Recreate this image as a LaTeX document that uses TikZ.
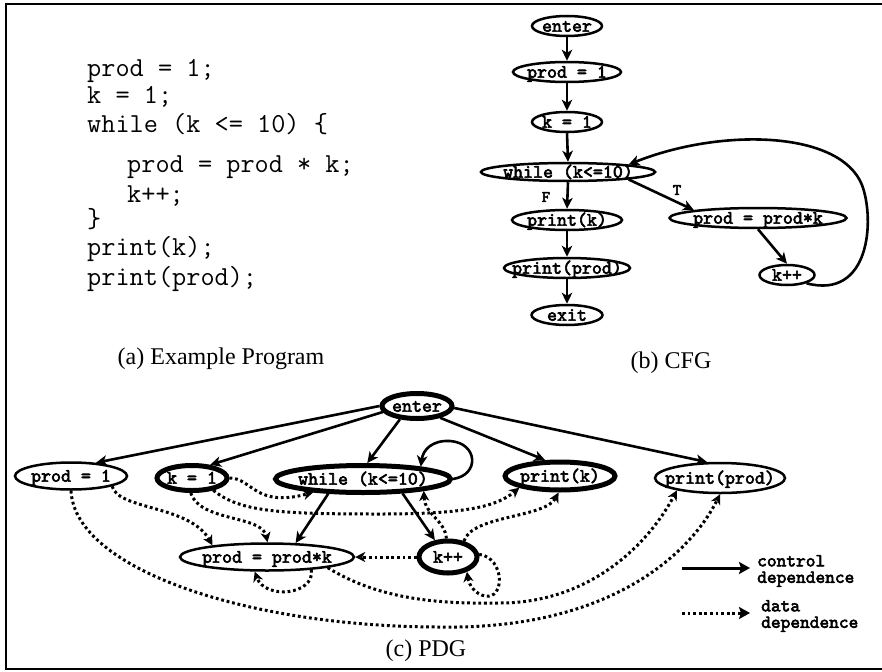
\documentclass[tikz,border=0pt]{standalone}
\usepackage{fontspec}
\setmainfont{Liberation Serif}
\newfontfamily\graphfam{lmmono10-regular}[Extension=.otf, FakeBold=3]
\usetikzlibrary{shapes.geometric,arrows.meta}
% typewriter faces for the program text and the graph labels
\newcommand\codett{\fontencoding{TU}\fontfamily{lmtt}\fontseries{m}\fontshape{n}\fontsize{27.5}{27.5}\selectfont}
\newcommand\gtt{\graphfam\fontsize{19}{19}\selectfont}
\newcommand\legtt{\graphfam\fontsize{18.5}{16.5}\selectfont}
\newcommand\smalltt{\graphfam\fontsize{16}{16}\selectfont}
% label text that does not enlarge the ellipse around it
\newcommand\lbl[1]{\raisebox{-0.3em}[0pt][0pt]{\makebox[0pt]{#1}}}
\tikzset{
  code/.style={anchor=base west, inner sep=0pt, font=\codett},
  caption/.style={anchor=base, inner sep=0pt, font=\fontsize{24}{24}\selectfont},
  gnode/.style={ellipse, draw, line width=2.5pt, inner sep=0pt, font=\gtt},
  boldnode/.style={ellipse, draw, line width=5pt, inner sep=0pt, font=\gtt},
  ctrl/.style={line width=2.6pt, -{Stealth[length=11pt,width=10.5pt,inset=3pt]}},
  datadep/.style={line width=3pt, dash pattern=on 2.8pt off 2.8pt,
    -{Stealth[length=10pt,width=10pt,inset=3pt]}},
  legtext/.style={anchor=west, inner sep=0pt, align=left, font=\legtt},
}
\begin{document}
\begin{tikzpicture}[x=1pt,y=-1pt]
\useasboundingbox (0,0) rectangle (882,671);
% frame
\draw[line width=2pt] (882,4) -- (6,4) -- (6,669) -- (882,669);

% ---------- (a) program ----------
\node[code] (l1) at (87,77)  {prod = 1;};
\node[code] (l2) at (87,104) {k = 1;};
\node[code] (l3) at (87,133) {while (k <= 10) \{};
\node[code] (l4) at (127,172) {prod = prod * k;};
\node[code] (l5) at (127,202) {k++;};
\node[code] (l6) at (87,227) {\}};
\node[code] (l7) at (87,255) {print(k);};
\node[code] (l8) at (87,285) {print(prod);};
\node[caption] (capa) at (221,364) {(a) Example Program};

% ---------- (b) CFG ----------
\node[gnode, minimum width=70pt,  minimum height=20pt] (c_enter) at (567,26)  {\lbl{enter}};
\node[gnode, minimum width=108pt, minimum height=20pt] (c_p1)    at (567,72)  {\lbl{prod = 1}};
\node[gnode, minimum width=70pt,  minimum height=20pt] (c_k1)    at (567,122) {\lbl{k = 1}};
\node[gnode, minimum width=174pt, minimum height=18pt] (c_wh)    at (568,172) {\lbl{while (k<=10)}};
\node[gnode, minimum width=110pt, minimum height=20pt] (c_pk)    at (567,220) {\lbl{print(k)}};
\node[gnode, minimum width=126pt, minimum height=20pt] (c_pp)    at (567,268) {\lbl{print(prod)}};
\node[gnode, minimum width=71pt,  minimum height=20pt] (c_exit)  at (567,315) {\lbl{exit}};
\node[gnode, minimum width=177pt, minimum height=20pt] (c_pr)    at (758,218) {\lbl{prod = prod*k}};
\node[gnode, minimum width=55pt,  minimum height=20pt] (c_kpp)   at (787,275) {\lbl{k++}};

\draw[ctrl] (c_enter.south) -- (c_p1.north);
\draw[ctrl] (c_p1.south) -- (c_k1.north);
\draw[ctrl] (c_k1.south) -- (c_wh.north);
\draw[ctrl] (c_wh.south) -- (c_pk.north);
\draw[ctrl] (c_pk.south) -- (c_pp.north);
\draw[ctrl] (c_pp.south) -- (c_exit.north);
\draw[ctrl] (c_wh.-7) -- (c_pr.173);
\draw[ctrl] (c_pr.south) -- (c_kpp.north);
\draw[ctrl] (c_kpp.-23) .. controls (870,300) and (875,220) .. (862,185)
            .. controls (840,130) and (720,128) .. (c_wh.7);
\node[inner sep=0pt, font=\smalltt] (lF) at (546,197) {F};
\node[inner sep=0pt, font=\smalltt] (lT) at (677,190) {T};
\node[caption] (capb) at (671,368) {(b) CFG};

% ---------- (c) PDG ----------
\node[boldnode, minimum width=70pt,  minimum height=25pt] (p_enter) at (417,406) {\lbl{enter}};
\node[gnode,    minimum width=112pt, minimum height=27pt] (p_p1)    at (71,476)  {\lbl{prod = 1}};
\node[boldnode, minimum width=70pt,  minimum height=25pt] (p_k1)    at (192,478) {\lbl{k = 1}};
\node[boldnode, minimum width=175pt, minimum height=27pt] (p_wh)    at (363,479) {\lbl{while (k<=10)}};
\node[boldnode, minimum width=110pt, minimum height=28pt] (p_pk)    at (560,476) {\lbl{print(k)}};
\node[gnode,    minimum width=130pt, minimum height=30pt] (p_pp)    at (720,478) {\lbl{print(prod)}};
\node[gnode,    minimum width=174pt, minimum height=27pt] (p_pr)    at (267,557) {\lbl{prod = prod*k}};
\node[boldnode, minimum width=58pt,  minimum height=32pt] (p_kpp)   at (448,557) {\lbl{k++}};

% control dependences
\draw[ctrl] (p_enter.180) -- (p_p1.28);
\draw[ctrl] (p_enter.190) -- (p_k1.36);
\draw[ctrl] (p_enter.218) -- (p_wh.75);
\draw[ctrl] (p_enter.-27) -- (p_pk.133);
\draw[ctrl] (p_enter.-3) -- (p_pp.129);
\draw[ctrl] (p_wh.203) -- (p_pr.26);
\draw[ctrl] (p_wh.-20) -- (p_kpp.128);
\draw[ctrl] (p_wh.0) .. controls (480,475) and (478,443) .. (450,441)
            .. controls (432,440) and (423,450) .. (p_wh.12);

% data dependences
\draw[datadep] (p_k1.0) .. controls (252,478) and (255,508) .. (p_wh.195);
\draw[datadep] (p_k1.-30) .. controls (240,512) and (280,514) .. (380,514)
               .. controls (460,514) and (495,508) .. (p_pk.196);
\draw[datadep] (p_k1.-95) .. controls (200,522) and (262,515) .. (p_pr.88);
\draw[datadep] (p_p1.-14) .. controls (118,510) and (190,505) .. (p_pr.168);
\draw[datadep] (p_p1.south) .. controls (75,570) and (250,627) .. (440,627)
               .. controls (620,630) and (695,545) .. (p_pp.south);
\draw[datadep] (p_pr.-10) .. controls (380,600) and (440,604) .. (500,603)
               .. controls (585,603) and (645,550) .. (p_pp.196);
\draw[datadep] (p_pr.-16) .. controls (315,595) and (265,600) .. (p_pr.-130);
\draw[datadep] (p_kpp.west) -- (p_pr.east);
\draw[datadep] (p_kpp.95) .. controls (445,520) and (425,515) .. (p_wh.-11);
\draw[datadep] (p_kpp.45) .. controls (472,515) and (545,518) .. (p_pk.-95);
\draw[datadep] (p_kpp.5) .. controls (505,558) and (505,600) .. (485,596)
               .. controls (475,594) and (469,585) .. (p_kpp.-38);

% legend
\coordinate (lc0) at (682,568);
\coordinate (lc1) at (750,568);
\coordinate (ld0) at (682,613);
\coordinate (ld1) at (750,613);
\draw[line width=3pt, -{Stealth[length=11pt,width=12pt,inset=2pt]}] (lc0) -- (lc1);
\draw[line width=3pt, dash pattern=on 2.8pt off 2.8pt,
      -{Stealth[length=11pt,width=12pt,inset=2pt]}] (ld0) -- (ld1);
\node[legtext] (lt1) at (757,571) {control\\dependence};
\node[legtext] (lt2) at (761,616) {data\\dependence};
\node[caption] (capc) at (426,656) {(c) PDG};
\end{tikzpicture}
\end{document}
